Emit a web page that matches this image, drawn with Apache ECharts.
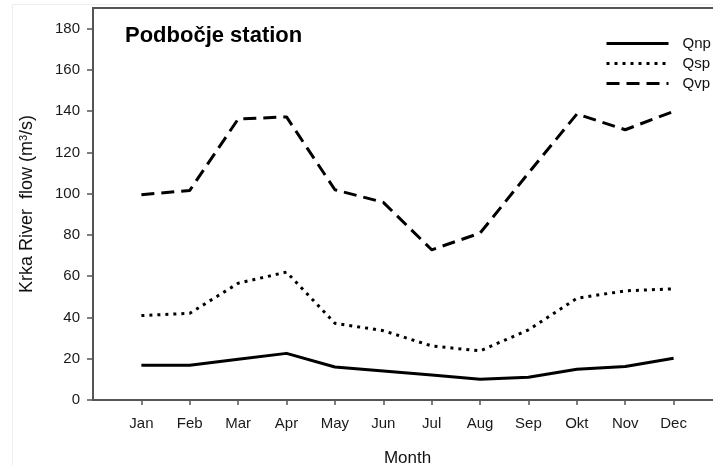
<!DOCTYPE html>
<html>
<head>
<meta charset="utf-8">
<script src="https://cdn.jsdelivr.net/npm/echarts@6/dist/echarts.min.js"></script>
<style>
  html, body { margin: 0; padding: 0; background: #fff; }
  #chart { width: 713px; height: 465px; }
</style>
</head>
<body>
<div id="chart"></div>
<script>
// Monthly mean flows of the Krka River at Podbočje (m3/s)
const months = ['Jan', 'Feb', 'Mar', 'Apr', 'May', 'Jun', 'Jul', 'Aug', 'Sep', 'Okt', 'Nov', 'Dec'];
const qnp = [16.8, 16.8, 19.7, 22.6, 16.0, 14.1, 12.1, 10.0, 11.0, 14.9, 16.2, 20.2];
const qsp = [40.9, 42.0, 56.6, 62.0, 37.2, 33.6, 26.2, 23.8, 34.0, 49.3, 52.9, 53.9];
const qvp = [99.5, 101.6, 136.2, 137.2, 101.9, 95.8, 72.8, 80.9, 110.0, 138.6, 131.0, 139.9];
const yTicks = [0, 20, 40, 60, 80, 100, 120, 140, 160, 180];

const FONT = '"Liberation Sans", Arial, sans-serif';
const positions = months.map((m, i) => i + 1);
const toPoints = vals => vals.map((v, i) => [positions[i], v]);

const chart = echarts.init(document.getElementById('chart'), null, { renderer: 'canvas' });

const lineSeries = (name, vals, dash) => ({
  name: name,
  type: 'line',
  data: toPoints(vals),
  symbol: 'none',
  smooth: false,
  animation: false,
  itemStyle: { color: '#000' },
  lineStyle: { color: '#000', width: 3, type: dash, cap: 'butt', join: 'round' }
});

chart.setOption({
  backgroundColor: '#fff',
  animation: false,
  textStyle: { fontFamily: FONT },
  grid: {
    left: 93, top: 8, bottom: 65, width: 629,
    outerBoundsMode: 'none', containLabel: false,
    show: true, borderColor: '#555', borderWidth: 2
  },
  xAxis: {
    type: 'value',
    min: 0, max: 13, interval: 1,
    splitLine: { show: false },
    axisLine: { lineStyle: { color: '#555', width: 2 } },
    axisTick: { show: true, length: 5, customValues: positions, lineStyle: { color: '#555', width: 1.5 } },
    axisLabel: {
      customValues: positions,
      formatter: v => months[v - 1] || '',
      color: '#1a1a1a', fontSize: 15, fontFamily: FONT, margin: 16
    },
    name: 'Month',
    nameLocation: 'middle',
    nameGap: 50,
    nameTextStyle: { color: '#111', fontSize: 17, fontFamily: FONT }
  },
  yAxis: {
    type: 'value',
    min: 0, max: 190, interval: 20,
    splitLine: { show: false },
    axisLine: { lineStyle: { color: '#555', width: 2 } },
    axisTick: { show: true, length: 6, customValues: yTicks, lineStyle: { color: '#555', width: 1.5 } },
    axisLabel: {
      customValues: yTicks,
      color: '#1a1a1a', fontSize: 15, fontFamily: FONT, margin: 13
    },
    name: '{t|Krka River  flow (m}{s|3}{t|/s)}',
    nameLocation: 'middle',
    nameGap: 56,
    nameRotate: 90,
    nameTextStyle: {
      color: '#111', fontFamily: FONT,
      rich: {
        t: { fontSize: 18, fontFamily: FONT, color: '#111' },
        s: { fontSize: 11, fontFamily: FONT, color: '#111', verticalAlign: 'top', padding: [0, 0, 8, 0] }
      }
    }
  },
  legend: {
    orient: 'vertical',
    left: 605, top: 36,
    padding: 0,
    itemWidth: 62, itemHeight: 14, itemGap: 5,
    itemStyle: { opacity: 0 },
    lineStyle: { width: 3, color: '#000' },
    textStyle: { color: '#111', fontSize: 15, fontFamily: FONT, padding: [0, 0, 0, 9], lineHeight: 14 },
    data: ['Qnp', 'Qsp', 'Qvp']
  },
  graphic: [
    {
      type: 'text', left: 125, top: 25,
      style: { text: 'Podbočje station', font: 'bold 22px ' + FONT, fill: '#000' }
    },
    {
      type: 'rect', silent: true, z: -1,
      shape: { x: 12.5, y: 4.5, width: 720, height: 480 },
      style: { fill: 'none', stroke: '#eeeeee', lineWidth: 1 }
    }
  ],
  series: [
    lineSeries('Qnp', qnp, 'solid'),
    lineSeries('Qsp', qsp, [3, 5]),
    lineSeries('Qvp', qvp, [13, 7])
  ]
});
</script>
</body>
</html>
